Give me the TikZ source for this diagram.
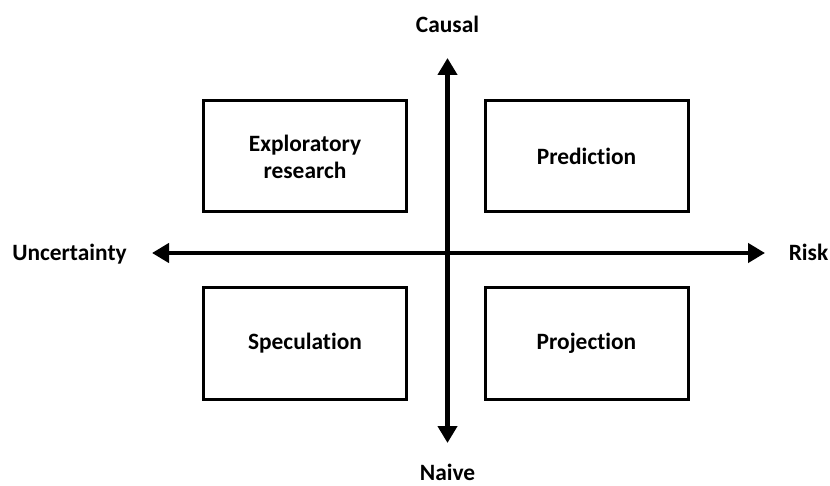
\documentclass[tikz,border=0pt]{standalone}
\usepackage{fontspec}
\setmainfont{Carlito}[Ligatures=NoCommon]
\usetikzlibrary{arrows.meta}
\begin{document}
\begin{tikzpicture}[x=1pt,y=-1pt,
  every node/.style={font=\bfseries\fontsize{23.4}{27}\selectfont},
  quadbox/.style={draw, line width=3pt, minimum width=203pt, minimum height=111pt, align=center, inner sep=0pt},
  axislabel/.style={inner sep=0pt},
  axis/.style={line width=4.5pt, {Triangle[length=17pt,width=19pt]}-{Triangle[length=17pt,width=19pt]}}]
  \useasboundingbox (0,0) rectangle (830,486);
  % axis end points
  \coordinate (top) at (447.5,58);
  \coordinate (bottom) at (447.5,443);
  \coordinate (left) at (152,253);
  \coordinate (right) at (765,253);
  \draw[axis] (bottom) -- (top);
  \draw[axis] (left) -- (right);
  % axis labels
  \node[axislabel] (causal) at (447.5,24) {Causal};
  \node[axislabel] (naive) at (447.5,472) {Naive};
  \node[axislabel] (uncert) at (69.5,254) {Uncertainty};
  \node[axislabel] (risk) at (808.5,252) {Risk};
  % quadrants
  \node[quadbox] (explore) at (305,156.5) {Exploratory\\research};
  \node[quadbox] (predict) at (586.5,156.5) {Prediction};
  \node[quadbox] (specul) at (305,343.5) {Speculation};
  \node[quadbox] (project) at (586.5,343.5) {Projection};
\end{tikzpicture}
\end{document}
